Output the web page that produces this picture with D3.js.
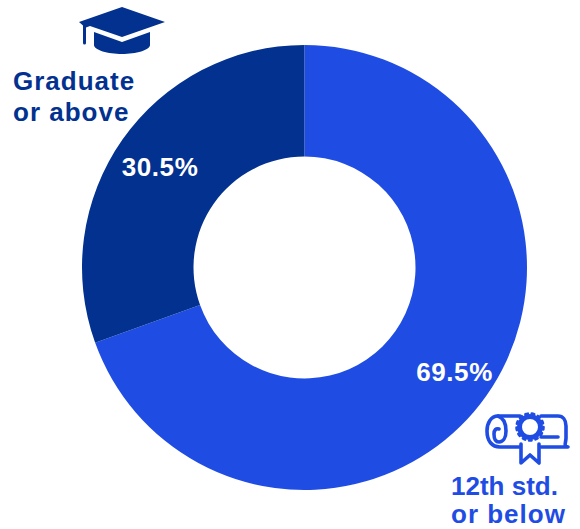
<!DOCTYPE html>
<html><head><meta charset="utf-8">
<script src="https://cdn.jsdelivr.net/npm/d3@7"></script>
<style>html,body{margin:0;padding:0;background:#fff}svg{display:block}</style></head>
<body><svg id="c" width="580" height="529"></svg>
<script>
const categories = ["12th std. or below", "Graduate or above"];
const values = [69.5, 30.5];
const valueLabels = ["69.5%", "30.5%"];
const colors = ["#1F4DE4", "#02318F"];

const svg = d3.select("#c");
const cx = 304.5, cy = 267.5, R = 222.5, r = 111;
const g = svg.append("g").attr("transform", `translate(${cx},${cy})`);
const pie = d3.pie().sort(null)(values);
const arc = d3.arc().innerRadius(r).outerRadius(R);
g.selectAll("path").data(pie).join("path")
  .attr("d", arc).attr("fill", (d,i)=>colors[i]);

const font = "'Liberation Sans',Arial,sans-serif";
function txt(t,x,y,fill,anchor,ls){
  svg.append("text").attr("x",x).attr("y",y).attr("text-anchor",anchor)
    .attr("font-family",font).attr("font-weight",700).attr("font-size",26)
    .attr("letter-spacing",ls).attr("fill",fill).text(t);
}
txt(valueLabels[0],454.5,381,"#fff","middle",0.6);
txt(valueLabels[1],160,176,"#fff","middle",0.6);
txt("Graduate",13,89.5,colors[1],"start",1);
txt("or above",13,120.5,colors[1],"start",1);
txt("12th std.",451,495,colors[0],"start",0);
txt("or below",451,523.4,colors[0],"start",1);

// graduation cap icon
const cap = svg.append("g").attr("fill",colors[1]);
cap.append("path").attr("d","M122 7L165 22L122 37L90 26L86 27.5V43a1.5 1.5 0 0 1-3 0V25.5L79 22Z");
cap.append("path").attr("d","M94 32L122 42L150 32V45C150 50 136 54 122 54C108 54 94 50 94 45Z");

// diploma icon
const dip = svg.append("g").attr("fill","none").attr("stroke",colors[0]).attr("stroke-width",3.6).attr("stroke-linecap","round").attr("stroke-linejoin","round");
dip.append("path").attr("d","M520 416H498C491 416 487 423 487 431C487 441 492 447 500 447H520");
dip.append("path").attr("d","M498 416C504 418 506 424 506 431C506 438 503 442 499 442C495 442 494 438 494 434C494 430 496 428 499 429");
dip.append("path").attr("d","M541 416H558C563 416 566 420 566 426V438C566 443 563 446 568 447H541M558 437H541");
dip.append("path").attr("d","M521 444V463L530 455L539 463V444");
dip.append("circle").attr("cx",530).attr("cy",427).attr("r",13.5).attr("stroke-width",2.6).attr("stroke-dasharray","2.5 4").attr("fill","#fff");
dip.append("circle").attr("cx",530).attr("cy",427).attr("r",10.5).attr("stroke-width",5).attr("fill","#fff");
</script></body></html>
